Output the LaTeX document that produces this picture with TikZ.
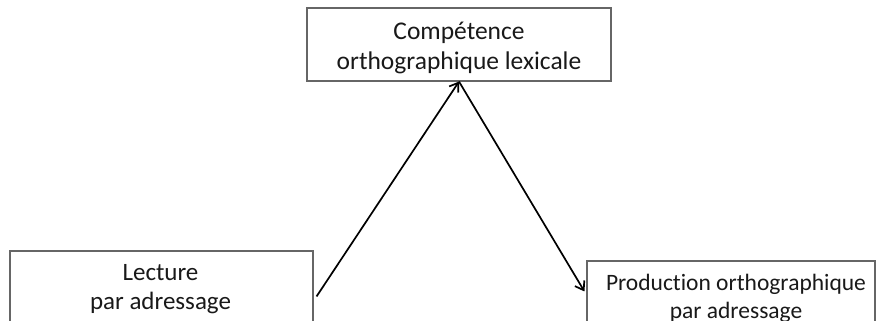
\documentclass[tikz,border=0pt]{standalone}
\usepackage{fontspec}
\setmainfont{Carlito}[Ligatures=NoCommon]
\usetikzlibrary{arrows.meta,calc}
\begin{document}
\begin{tikzpicture}[x=1pt,y=-1pt,
 box/.style={draw=black!60, line width=1.1pt, inner sep=0pt},
 txt/.style={align=center, inner sep=0pt, text=black!90},
 arr/.style={line width=1.7pt, -{Straight Barb[length=8pt,width=11pt]}}]
\useasboundingbox (0,0) rectangle (876,321);
\clip (0,0) rectangle (876,321);
\node[box, minimum width=304pt, minimum height=73pt] (comp) at (459,44.5) {};
\node[box, minimum width=303pt, minimum height=75pt] (lect) at (161.5,288.5) {};
\node[box, minimum width=288pt, minimum height=69pt] (prod) at (731,295.5) {};
\node[txt, font=\fontsize{25.5}{29.5}\selectfont] (compt) at ([yshift=-3.5pt]comp.center) {Compétence\\orthographique lexicale};
\node[txt, font=\fontsize{25}{29}\selectfont] (lectt) at ([xshift=-1pt,yshift=-1pt]lect.center) {Lecture\\par adressage};
\node[txt, font=\fontsize{23.5}{27.5}\selectfont] (prodt) at ([xshift=5pt,yshift=-3pt]prod.center) {Production orthographique\\par adressage};
\draw[arr] ([shift={(3pt,-46pt)}]lect.north east) -- (comp.south);
\draw[arr] (comp.south) -- ([shift={(-2pt,-31pt)}]prod.north west);
\end{tikzpicture}
\end{document}
